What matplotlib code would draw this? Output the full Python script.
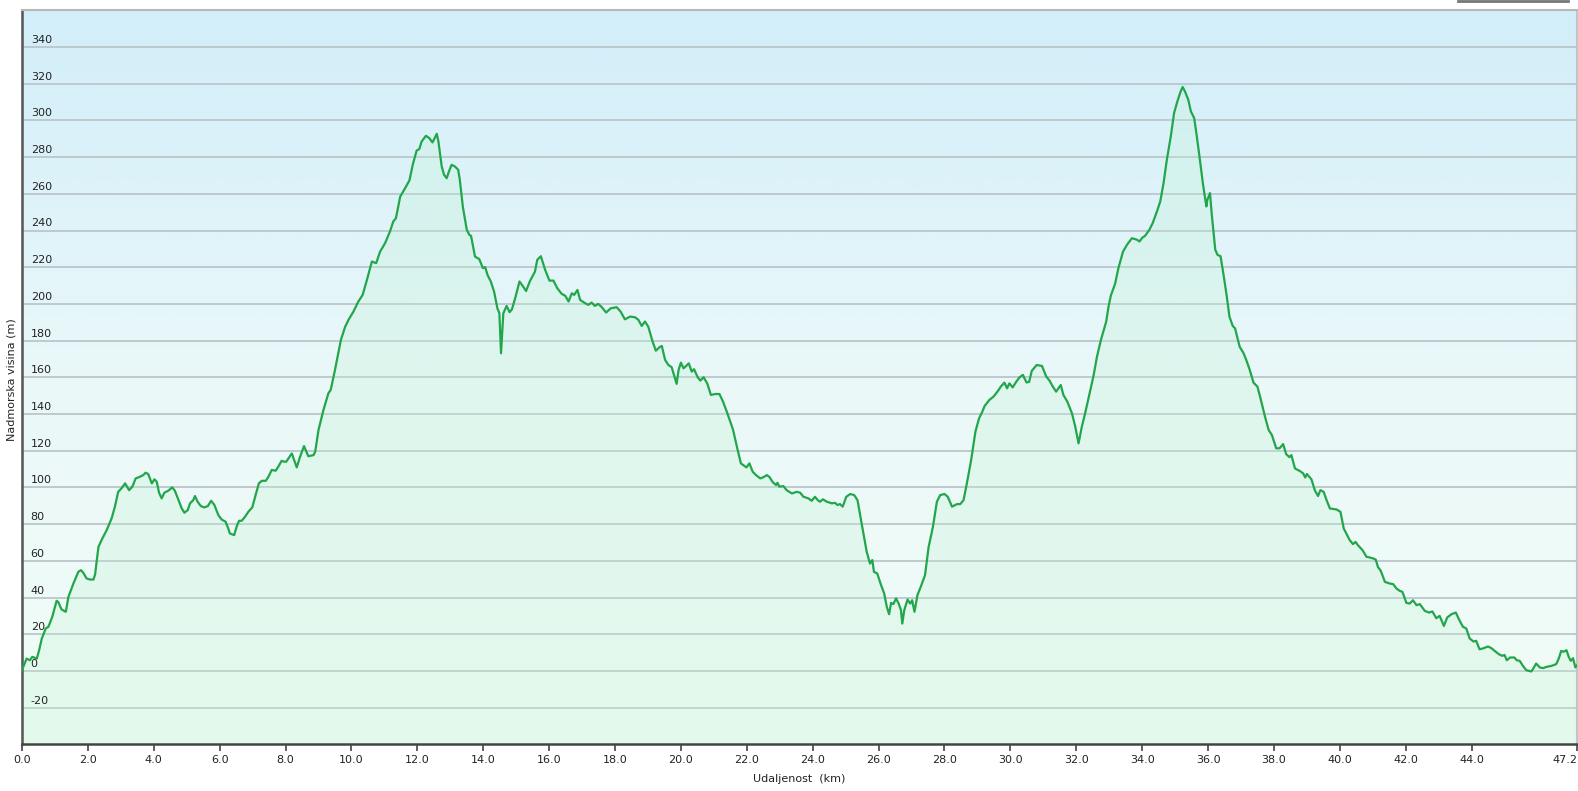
import numpy as np
import matplotlib
matplotlib.use("Agg")
import matplotlib.pyplot as plt
import matplotlib.transforms as mtrans
from matplotlib.colors import LinearSegmentedColormap
from matplotlib.lines import Line2D

# ---- data: distance (km) and elevation (m) ----
distance_km = [
    0.00, 0.14, 0.24, 0.31, 0.37, 0.45, 0.52, 0.60, 0.72, 0.80, 0.92, 1.05, 1.10, 1.20, 1.33, 1.41,
    1.56, 1.71, 1.79, 1.86, 1.96, 2.06, 2.17, 2.22, 2.32, 2.44, 2.57, 2.72, 2.82, 2.92, 3.02, 3.13,
    3.25, 3.35, 3.45, 3.58, 3.68, 3.75, 3.83, 3.94, 4.02, 4.09, 4.16, 4.24, 4.32, 4.44, 4.56, 4.64,
    4.75, 4.85, 4.93, 5.03, 5.10, 5.20, 5.25, 5.33, 5.43, 5.53, 5.64, 5.74, 5.84, 5.96, 6.06, 6.18,
    6.26, 6.31, 6.44, 6.52, 6.59, 6.67, 6.77, 6.87, 6.99, 7.09, 7.19, 7.28, 7.40, 7.48, 7.58, 7.70,
    7.78, 7.88, 7.96, 8.02, 8.19, 8.34, 8.44, 8.56, 8.69, 8.85, 8.90, 9.00, 9.15, 9.30, 9.37, 9.50,
    9.68, 9.81, 9.91, 10.06, 10.21, 10.34, 10.47, 10.62, 10.75, 10.87, 11.02, 11.17, 11.27, 11.35,
    11.48, 11.63, 11.76, 11.86, 11.98, 12.06, 12.13, 12.26, 12.36, 12.46, 12.59, 12.64, 12.74, 12.81,
    12.89, 12.97, 13.04, 13.14, 13.24, 13.29, 13.38, 13.50, 13.58, 13.63, 13.75, 13.88, 13.99, 14.06,
    14.13, 14.23, 14.33, 14.43, 14.49, 14.54, 14.61, 14.71, 14.80, 14.87, 14.97, 15.10, 15.21, 15.30,
    15.42, 15.57, 15.64, 15.75, 15.88, 16.01, 16.13, 16.25, 16.38, 16.49, 16.59, 16.69, 16.76, 16.86,
    16.94, 17.09, 17.19, 17.29, 17.39, 17.49, 17.60, 17.73, 17.87, 18.05, 18.17, 18.30, 18.46, 18.61,
    18.71, 18.81, 18.91, 19.01, 19.14, 19.24, 19.35, 19.42, 19.52, 19.62, 19.72, 19.79, 19.87, 19.93,
    20.00, 20.08, 20.16, 20.24, 20.33, 20.40, 20.51, 20.59, 20.69, 20.80, 20.91, 21.05, 21.17, 21.28,
    21.41, 21.58, 21.70, 21.82, 21.99, 22.08, 22.18, 22.28, 22.41, 22.51, 22.61, 22.69, 22.79, 22.89,
    22.93, 22.99, 23.11, 23.21, 23.37, 23.52, 23.62, 23.72, 23.87, 23.97, 24.07, 24.15, 24.22, 24.31,
    24.43, 24.58, 24.68, 24.75, 24.83, 24.91, 25.02, 25.14, 25.26, 25.36, 25.44, 25.54, 25.64, 25.74,
    25.81, 25.86, 25.96, 26.06, 26.17, 26.25, 26.32, 26.38, 26.45, 26.53, 26.61, 26.68, 26.72, 26.78,
    26.88, 26.96, 27.02, 27.09, 27.18, 27.28, 27.41, 27.52, 27.65, 27.77, 27.87, 28.00, 28.10, 28.23,
    28.38, 28.48, 28.58, 28.68, 28.81, 28.94, 29.05, 29.15, 29.22, 29.36, 29.49, 29.61, 29.71, 29.82,
    29.90, 29.97, 30.07, 30.18, 30.28, 30.38, 30.49, 30.57, 30.65, 30.80, 30.96, 31.09, 31.19, 31.29,
    31.39, 31.46, 31.53, 31.61, 31.73, 31.87, 31.97, 32.07, 32.17, 32.27, 32.37, 32.52, 32.63, 32.75,
    32.91, 32.98, 33.05, 33.18, 33.28, 33.42, 33.54, 33.69, 33.84, 33.92, 34.00, 34.09, 34.22, 34.32,
    34.45, 34.55, 34.65, 34.75, 34.87, 34.97, 35.07, 35.17, 35.23, 35.30, 35.40, 35.48, 35.58, 35.66,
    35.74, 35.85, 35.95, 35.98, 36.06, 36.11, 36.22, 36.29, 36.38, 36.48, 36.57, 36.65, 36.75, 36.82,
    36.96, 37.08, 37.16, 37.26, 37.38, 37.50, 37.58, 37.73, 37.84, 37.94, 38.07, 38.17, 38.28, 38.37,
    38.47, 38.53, 38.64, 38.79, 38.89, 38.95, 39.00, 39.14, 39.24, 39.34, 39.41, 39.51, 39.60, 39.70,
    39.90, 40.02, 40.12, 40.30, 40.40, 40.48, 40.55, 40.69, 40.81, 40.91, 41.01, 41.09, 41.16, 41.24,
    41.37, 41.52, 41.62, 41.72, 41.82, 41.90, 42.02, 42.12, 42.22, 42.33, 42.43, 42.58, 42.71, 42.81,
    42.93, 43.03, 43.16, 43.26, 43.39, 43.52, 43.64, 43.74, 43.84, 43.94, 44.06, 44.14, 44.24, 44.34,
    44.50, 44.60, 44.70, 44.83, 44.93, 45.00, 45.07, 45.17, 45.30, 45.37, 45.46, 45.56, 45.66, 45.81,
    45.86, 45.96, 46.07, 46.17, 46.27, 46.42, 46.57, 46.65, 46.72, 46.79, 46.88, 46.95, 47.01, 47.08,
    47.15, 47.20,
]

elevation_m = [
    0.5, 6.7, 5.8, 7.6, 7.3, 6.7, 11.3, 17.6, 23.1, 24.0, 29.5, 38.2, 37.6, 33.5, 32.2, 40.4,
    47.6, 54.0, 54.9, 53.5, 50.4, 49.8, 49.8, 52.7, 67.6, 72.2, 76.7, 83.1, 89.5, 97.6, 99.5, 102.2,
    98.5, 100.4, 104.9, 105.8, 106.7, 108.0, 107.3, 102.2, 104.4, 103.1, 97.1, 94.0, 97.1, 98.2, 100.0, 98.2,
    93.1, 88.5, 86.2, 87.6, 91.3, 93.1, 95.3, 92.2, 89.8, 89.1, 89.8, 92.7, 90.4, 84.9, 82.5, 81.3,
    77.6, 74.9, 74.0, 78.9, 81.8, 81.8, 84.0, 86.7, 89.1, 95.8, 102.2, 103.6, 103.6, 105.8, 109.5, 109.1,
    111.3, 114.5, 114.0, 114.0, 118.5, 110.9, 116.7, 122.5, 117.0, 117.6, 119.5, 131.3, 142.2, 151.3, 153.1, 164.0,
    180.4, 187.6, 191.3, 195.8, 201.3, 204.9, 213.1, 223.1, 222.2, 228.5, 233.1, 239.5, 244.9, 246.7,
    258.5, 263.1, 267.3, 275.8, 283.6, 284.4, 288.5, 291.6, 290.4, 288.0, 292.7, 288.5, 274.9, 270.4,
    268.5, 272.7, 275.8, 274.9, 273.1, 267.6, 253.1, 240.4, 237.6, 237.1, 225.8, 224.4, 219.5, 220.0,
    215.8, 212.2, 206.7, 197.6, 194.9, 173.1, 194.9, 198.9, 195.5, 197.0, 203.1, 212.2, 209.5, 207.0,
    212.5, 217.6, 224.0, 226.0, 218.5, 212.7, 212.7, 208.5, 205.5, 204.4, 201.3, 205.8, 204.9, 207.6,
    202.2, 200.4, 199.5, 200.7, 198.9, 200.0, 198.2, 195.3, 197.6, 198.2, 195.8, 191.6, 193.1, 192.7,
    191.3, 188.0, 190.4, 187.6, 179.5, 174.5, 176.4, 177.1, 169.5, 166.7, 165.5, 161.3, 156.4, 164.0,
    168.0, 164.9, 166.2, 167.6, 163.1, 164.4, 160.0, 158.2, 160.0, 156.7, 150.4, 150.9, 150.9, 146.7,
    140.4, 131.6, 122.2, 113.1, 110.9, 113.1, 108.5, 106.7, 104.9, 105.6, 106.7, 105.6, 102.8, 101.3,
    102.5, 100.4, 100.7, 98.5, 96.7, 97.6, 97.1, 94.9, 94.0, 92.7, 94.9, 93.1, 92.2, 93.5,
    92.2, 91.3, 91.6, 90.4, 90.9, 89.5, 94.9, 96.4, 95.8, 93.1, 84.9, 74.9, 64.9, 58.5,
    60.4, 54.0, 53.1, 47.6, 42.2, 34.9, 30.9, 37.1, 36.4, 39.5, 36.7, 33.1, 25.8, 33.1,
    38.9, 36.7, 38.5, 32.2, 41.3, 45.8, 52.2, 67.6, 78.5, 92.2, 95.8, 96.4, 94.9, 89.5,
    90.9, 90.9, 93.1, 102.2, 114.9, 130.4, 137.6, 141.3, 144.4, 147.6, 149.5, 152.2, 154.9, 157.1,
    154.0, 156.7, 154.5, 157.6, 160.0, 161.3, 157.2, 157.5, 163.5, 166.7, 166.2, 160.4, 158.2, 154.9,
    152.2, 154.0, 155.8, 150.4, 146.7, 140.4, 133.1, 124.0, 133.1, 140.4, 148.5, 160.4, 171.3, 180.4,
    190.4, 198.5, 204.5, 211.0, 219.5, 228.5, 232.2, 235.8, 235.0, 234.0, 236.0, 237.1, 240.4, 244.0,
    250.4, 255.8, 265.8, 278.5, 291.3, 304.0, 310.4, 315.8, 318.2, 315.8, 311.3, 304.9, 301.3, 291.3,
    280.4, 264.9, 253.1, 256.7, 260.4, 249.5, 229.5, 226.7, 226.0, 214.9, 204.0, 193.1, 188.0, 186.7,
    176.7, 173.1, 169.5, 164.4, 157.1, 154.9, 149.5, 138.5, 131.3, 128.5, 121.3, 121.3, 123.6, 118.2,
    116.5, 117.6, 110.3, 108.9, 107.6, 105.4, 107.3, 104.4, 98.5, 95.3, 98.5, 97.6, 93.0, 88.5,
    88.0, 86.7, 77.6, 71.3, 69.1, 70.3, 68.5, 65.8, 62.2, 61.8, 61.3, 60.7, 56.5, 54.7,
    48.5, 47.6, 47.3, 44.9, 43.6, 43.1, 37.1, 36.7, 38.5, 35.8, 36.4, 32.7, 31.8, 32.4,
    28.7, 30.0, 24.5, 29.1, 30.9, 31.8, 27.3, 24.0, 23.1, 17.7, 16.0, 16.4, 11.8, 12.2,
    13.3, 12.4, 10.9, 9.1, 8.2, 8.7, 5.8, 7.3, 7.3, 5.8, 5.5, 2.7, 0.4, -0.3,
    0.9, 4.0, 1.9, 1.5, 2.2, 2.7, 3.7, 6.9, 10.9, 10.4, 11.3, 7.6, 5.5, 6.9,
    1.9, 3.0,
]

x_ticks = [0, 2, 4, 6, 8, 10, 12, 14, 16, 18, 20, 22, 24, 26, 28, 30, 32, 34, 36, 38, 40, 42, 44, 47.2]
x_tick_labels = ["0.0", "2.0", "4.0", "6.0", "8.0", "10.0", "12.0", "14.0", "16.0", "18.0", "20.0",
                 "22.0", "24.0", "26.0", "28.0", "30.0", "32.0", "34.0", "36.0", "38.0", "40.0",
                 "42.0", "44.0", "47.2"]
y_ticks = [-20, 0, 20, 40, 60, 80, 100, 120, 140, 160, 180, 200, 220, 240, 260, 280, 300, 320, 340]

x_label = "Udaljenost  (km)"
y_label = "Nadmorska visina (m)"

# ---- figure ----
W, H = 1578, 791
fig = plt.figure(figsize=(W / 100, H / 100), dpi=100)
fig.patch.set_facecolor("white")
ax_left, ax_right, ax_top, ax_bottom = 22, 1577, 10.3, 744.3
ax = fig.add_axes([ax_left / W, 1 - ax_bottom / H, (ax_right - ax_left) / W, (ax_bottom - ax_top) / H])

# background gradient
bg_cmap = LinearSegmentedColormap.from_list("bg", ["#f2fdf6", "#eaf8f9", "#d2eef9"])
grad = np.linspace(0, 1, 256).reshape(-1, 1)
ax.imshow(grad, extent=[0, 1, 0, 1], transform=ax.transAxes, origin="lower",
          aspect="auto", cmap=bg_cmap, zorder=0, interpolation="bicubic")

ax.set_xlim(0, 47.2)
ax.set_ylim(-40, 360)

# gridlines
for yv in y_ticks:
    ax.axhline(yv, color="#bac6ca", lw=1.3, zorder=1)

# fill and line
ax.fill_between(distance_km, elevation_m, -40, color="#c2f2d4", alpha=0.28, lw=0, zorder=2)
ax.plot(distance_km, elevation_m, color="#22a64b", lw=1.6, zorder=3, solid_joinstyle="round")

# y tick labels inside the plot, above gridlines
lab_trans = mtrans.offset_copy(ax.get_yaxis_transform(), fig=fig, x=0, y=4, units="dots")
for yv in y_ticks:
    ax.text(0.0056, yv, str(yv), transform=lab_trans, ha="left", va="baseline",
            fontsize=8, color="#222222", zorder=5)
ax.set_yticks([])

# x ticks
ax.set_xticks(x_ticks)
ax.set_xticklabels(x_tick_labels, fontsize=8, color="#222222")
ax.tick_params(axis="x", direction="out", length=5, width=1.2, color="#444444", pad=3)
last = ax.get_xticklabels()[-1]
last.set_horizontalalignment("right")

ax.set_xlabel(x_label, fontsize=8, color="#222222", labelpad=6)
fig.text(12 / W, 1 - 380 / H, y_label, rotation=90, ha="center", va="center",
         fontsize=8, color="#222222")

# spines
for side, col, lw in [("left", "#555555", 1.8), ("bottom", "#444444", 1.8),
                      ("top", "#b8b8b8", 1.5), ("right", "#c4c4c4", 1.5)]:
    ax.spines[side].set_color(col)
    ax.spines[side].set_linewidth(lw)

# small grey bar at the top right
fig.add_artist(Line2D([1458 / W, 1568 / W], [1 - 1 / H, 1 - 1 / H], color="#777777", lw=2,
                      transform=fig.transFigure))

fig.savefig("out.png", dpi=100)
